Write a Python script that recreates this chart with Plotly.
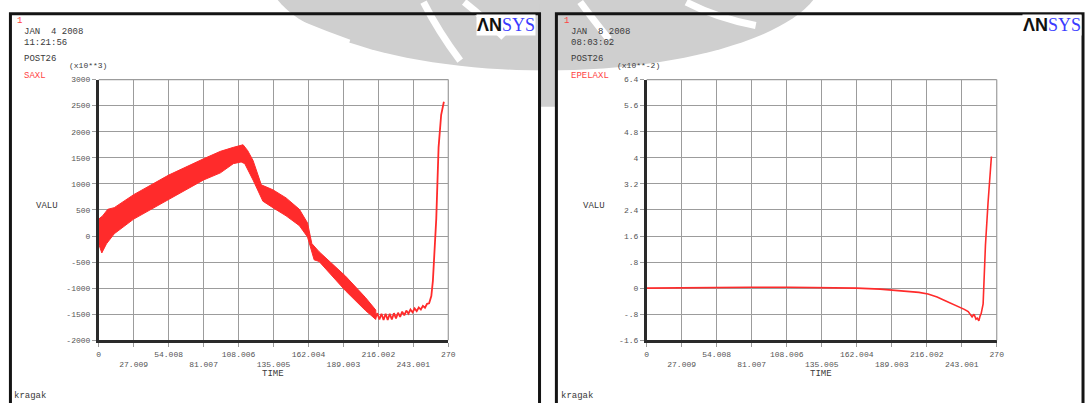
import plotly.graph_objects as go
import math

W, H = 1092, 403

# ---------------- data ----------------
# left chart: SAXL (x10**3) -- dense oscillation shown as band envelope
saxl_upper_t = [0, 3, 7, 12, 27, 54, 81, 94, 104, 111.5, 115, 119.2, 125.6, 134.5, 144.7, 155, 161.3, 164.6, 170.2, 190.6, 205.9, 214]
saxl_upper_v = [324, 386, 512, 544, 793, 1168, 1481, 1624, 1700, 1750, 1640, 1449, 981, 887, 731, 512, 250, -144, -300, -769, -1176, -1420]
saxl_lower_t = [0, 2.4, 6, 12, 27, 54, 81, 94, 104, 110, 112.8, 119.2, 126.8, 134.5, 144.7, 155, 161.3, 166.4, 170.2, 190.6, 205.9, 214]
saxl_lower_v = [-150, -325, -150, 43, 324, 700, 1075, 1211, 1388, 1420, 1388, 1074, 668, 544, 387, 199, -20, -457, -488, -1050, -1425, -1600]
# tail (small oscillation then sharp rise)
saxl_tail_t = [212.0, 213.6, 215.2, 216.8, 218.4, 220.0, 221.6, 223.2, 224.8, 226.4, 228.0, 229.6, 231.2, 232.8,
               234.4, 236.0, 237.6, 239.2, 240.8, 242.4, 244.0, 245.6, 247.2, 248.8, 250.4, 252.0, 253.6, 255.2,
               256.9, 258.1, 260.7, 262.5, 264.5, 266.6]
saxl_tail_v = [-1460, -1580, -1480, -1600, -1490, -1610, -1490, -1610, -1490, -1600, -1480, -1580, -1470, -1550,
               -1450, -1520, -1430, -1490, -1410, -1465, -1390, -1440, -1370, -1410, -1340, -1375, -1300, -1290,
               -1150, -860, 324, 1699, 2325, 2575]

# right chart: EPELAXL (x10**-2)
epel_t = [0, 20, 50, 80, 110, 140, 162, 180, 191, 200, 210, 217, 224, 229, 235, 240, 245, 248, 251, 252.5,
          254, 255, 256.2, 257.2, 258, 259.5, 261.3, 263.3, 265.1, 265.9]
epel_v = [0, 0.01, 0.02, 0.03, 0.03, 0.02, 0.0, -0.03, -0.06, -0.09, -0.13, -0.18, -0.27, -0.36, -0.46, -0.56,
          -0.65, -0.72, -0.88, -0.80, -0.95, -0.92, -1.0, -0.85, -0.78, -0.48, 1.32, 2.62, 3.72, 4.04]

x_tickvals = [0, 27, 54, 81, 108, 135, 162, 189, 216, 243, 270]
x_ticktext = ['0', ' <br>27.009', '54.008', ' <br>81.007', '108.006', ' <br>135.005',
              '162.004', ' <br>189.003', '216.002', ' <br>243.001', '270']
left_yvals = [3000, 2500, 2000, 1500, 1000, 500, 0, -500, -1000, -1500, -2000]
left_ytext = ['3000', '2500', '2000', '1500', '1000', '500', '0', '-500', '-1000', '-1500', '-2000']
right_yvals = [6.4, 5.6, 4.8, 4.0, 3.2, 2.4, 1.6, 0.8, 0, -0.8, -1.6]
right_ytext = ['6.4', '5.6', '4.8', '4', '3.2', '2.4', '1.6', '.8', '0', '-.8', '-1.6']

# ---------------- styling ----------------
RED = '#ff2b2b'
TXT = '#3a3a3a'
GRID = '#9c9c9c'
MONO = 'Liberation Mono'
WM = '#cfcfcf'


def fx(x):
    return x / W


def fy(y):
    return 1 - y / H


fig = go.Figure()

band_t = saxl_upper_t + saxl_lower_t[::-1]
band_v = saxl_upper_v + saxl_lower_v[::-1]
fig.add_trace(go.Scatter(x=band_t, y=band_v, mode='lines', fill='toself', fillcolor=RED,
                         line=dict(color=RED, width=1), xaxis='x', yaxis='y', hoverinfo='skip'))
fig.add_trace(go.Scatter(x=saxl_tail_t, y=saxl_tail_v, mode='lines', line=dict(color=RED, width=1.8),
                         xaxis='x', yaxis='y'))
fig.add_trace(go.Scatter(x=epel_t, y=epel_v, mode='lines', line=dict(color=RED, width=1.6),
                         xaxis='x2', yaxis='y2'))

ydom = [fy(344), fy(77.3)]
common_x = dict(range=[0, 270], tickmode='array', tickvals=x_tickvals, ticktext=x_ticktext, tickangle=0,
                showgrid=True, gridcolor=GRID, gridwidth=1.2, zeroline=False,
                showline=True, linecolor='#2a2a2a', linewidth=2.5,
                ticks='outside', ticklen=4, tickcolor=GRID, tickwidth=1.2,
                tickfont=dict(family=MONO, size=8, color='#555555'), fixedrange=True)
common_y = dict(showgrid=True, gridcolor=GRID, gridwidth=1.2, zeroline=False,
                showline=True, linecolor='#2a2a2a', linewidth=2.5,
                ticks='outside', ticklen=4, tickcolor=GRID, tickwidth=1.2, tickmode='array',
                tickfont=dict(family=MONO, size=8, color='#555555'), fixedrange=True)

fig.update_layout(
    width=W, height=H, margin=dict(l=0, r=0, t=0, b=0),
    paper_bgcolor='white', plot_bgcolor='white', showlegend=False,
    xaxis=dict(domain=[fx(97.5), fx(450)], anchor='y', **common_x),
    yaxis=dict(domain=ydom, anchor='x', range=[-2000, 3000], tickvals=left_yvals, ticktext=left_ytext, **common_y),
    xaxis2=dict(domain=[fx(650), fx(1003)], anchor='y2', **common_x),
    yaxis2=dict(domain=ydom, anchor='x2', range=[-1.6, 6.4], tickvals=right_yvals, ticktext=right_ytext, **common_y),
)

shapes = []


def pth(points, close=True):
    s = 'M ' + ' L '.join(f'{fx(x):.5f},{fy(y):.5f}' for x, y in points)
    return s + (' Z' if close else '')


def ellpts(cx, cy, rx, ry, a0, a1, n=60):
    return [(cx + rx * math.cos(math.radians(a0 + (a1 - a0) * i / n)),
             cy + ry * math.sin(math.radians(a0 + (a1 - a0) * i / n))) for i in range(n + 1)]


def curve(pts):
    # quadratic bezier through 3 points (pixel coords)
    (x0, y0), (x1, y1), (x2, y2) = pts
    return f'M {fx(x0):.5f},{fy(y0):.5f} Q {fx(x1):.5f},{fy(y1):.5f} {fx(x2):.5f},{fy(y2):.5f}'


# watermark (approximate gray swirl logo at top centre)
shapes.append(dict(type='path', xref='paper', yref='paper', path=pth(ellpts(548, -30, 280, 98, 0, 180)),
                   fillcolor=WM, line=dict(width=0), layer='below'))
shapes.append(dict(type='rect', xref='paper', yref='paper', x0=fx(542), x1=fx(559), y0=fy(105), y1=fy(0),
                   fillcolor=WM, line=dict(width=0), layer='below'))
for pts, w in [([(250, -2), (300, 22), (350, 40)], 7), ([(425, -2), (440, 28), (462, 58)], 7),
               ([(466, -2), (486, 14), (506, 34)], 7), ([(583, -2), (596, 16), (612, 36)], 7),
               ([(690, -2), (720, 14), (760, 22)], 7)]:
    shapes.append(dict(type='path', xref='paper', yref='paper', path=curve(pts),
                       line=dict(color='white', width=w), layer='below'))

# panel frames
shapes.append(dict(type='rect', xref='paper', yref='paper', x0=fx(8.5), x1=fx(542), y0=fy(430), y1=fy(10),
                   line=dict(color='#141414', width=3), layer='below'))
shapes.append(dict(type='rect', xref='paper', yref='paper', x0=fx(559), x1=fx(1090), y0=fy(430), y1=fy(10),
                   line=dict(color='#141414', width=3), layer='below'))
for xa, ya in [('x', 'y'), ('x2', 'y2')]:
    shapes.append(dict(type='line', xref=f'{xa} domain', yref=f'{ya} domain', x0=0, x1=1, y0=1, y1=1,
                       line=dict(color=GRID, width=1.2)))
    shapes.append(dict(type='line', xref=f'{xa} domain', yref=f'{ya} domain', x0=1, x1=1, y0=0, y1=1,
                       line=dict(color=GRID, width=1.2)))
fig.update_layout(shapes=shapes)

ann = []


def txt(x, y, text, color=TXT, size=9, xanchor='left', family=MONO):
    ann.append(dict(x=fx(x), y=fy(y), xref='paper', yref='paper', text=text, showarrow=False,
                    xanchor=xanchor, yanchor='middle', font=dict(family=family, size=size, color=color)))


for ox, date, time, name, mult in [(0, 'JAN  4 2008', '11:21:56', 'SAXL', '(x10**3)'),
                                     (552, 'JAN  8 2008', '08:03:02', 'EPELAXL', '(x10**-2)')]:
    txt(13 + ox, 17, '1', color='#ff4444')
    txt(20 + ox, 29, date)
    txt(20 + ox, 39.5, time)
    txt(20 + ox, 56.5, 'POST26')
    txt(20 + ox, 73.5, name, color='#ff4444')
    txt(66 + ox, 62.5, mult, size=8)
    txt(32 + ox, 207, 'VALU')
    txt(10 + ox, 401, 'kragak')

txt(273.5, 378, 'TIME', xanchor='center')
txt(826, 378, 'TIME', xanchor='center')

logo = ("<b>ΛN</b><span style='font-family:Liberation Serif;color:#3b3bff;font-weight:normal'>SYS</span>")
for xr in [538, 1089]:
    ann.append(dict(x=fx(xr), y=fy(21), xref='paper', yref='paper', text=logo, showarrow=False,
                    xanchor='right', yanchor='middle', bgcolor='white', borderpad=0,
                    font=dict(family='Liberation Sans', size=18, color='#111111')))

fig.update_layout(annotations=ann)
fig.write_html('out.html')
